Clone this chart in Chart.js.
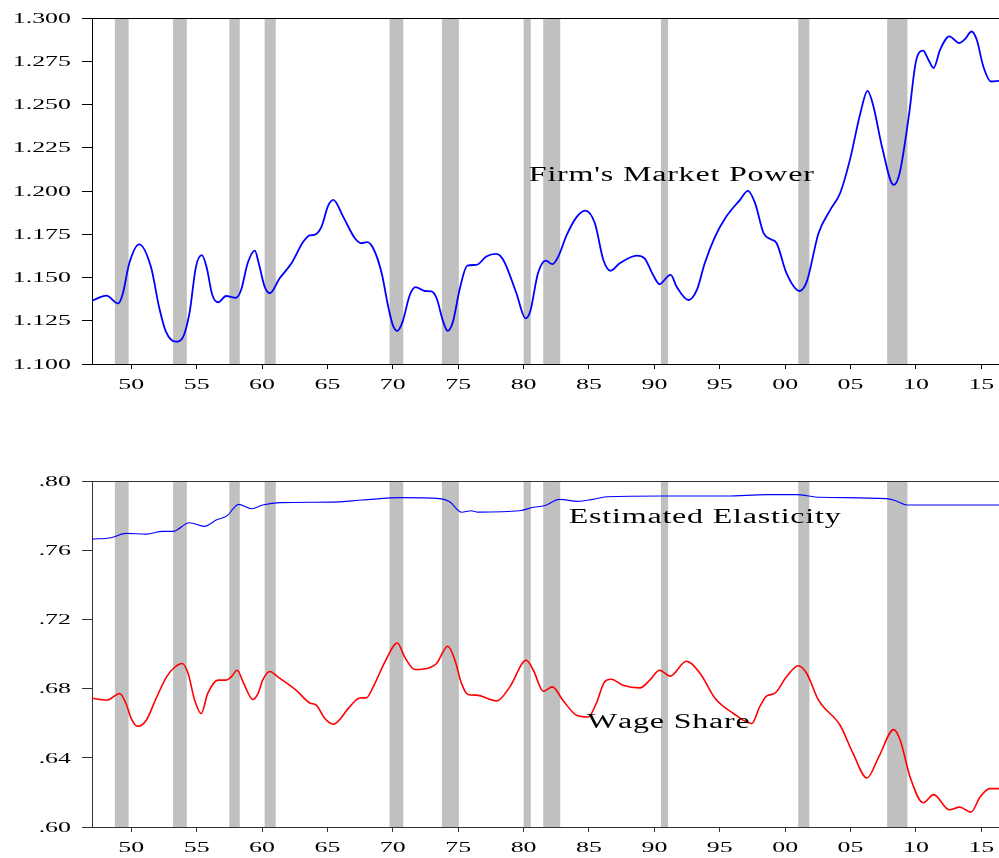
<!DOCTYPE html>
<html>
<head>
<meta charset="utf-8">
<script src="https://cdn.jsdelivr.net/npm/chart.js"></script>
<style>
  body { margin: 0; background: #fff; }
  #wrap { position: relative; width: 999px; height: 858px; }
  #top, #bottom { position: absolute; left: 0; }
  #top { top: 0; }
  #bottom { top: 430px; }
</style>
</head>
<body>
<div id="wrap">
  <canvas id="top" width="999" height="430"></canvas>
  <canvas id="bottom" width="999" height="428"></canvas>
</div>
<script>
// ---- data ----
const xTickYears = [1950, 1955, 1960, 1965, 1970, 1975, 1980, 1985, 1990, 1995, 2000, 2005, 2010, 2015];
const topTicks = [1.100, 1.125, 1.150, 1.175, 1.200, 1.225, 1.250, 1.275, 1.300];
const bottomTicks = [0.60, 0.64, 0.68, 0.72, 0.76, 0.80];

// NBER recessions (shaded)
const recessionStarts = [1948.75, 1953.2, 1957.5, 1960.2, 1969.75, 1973.75, 1980.0, 1981.5, 1990.5, 2001.0, 2007.8];
const recessionEnds   = [1949.8, 1954.25, 1958.3, 1961.05, 1970.8, 1975.05, 1980.55, 1982.8, 1991.05, 2001.85, 2009.35];

// Firm's market power
const powerYears = [1947.0, 1948.1, 1949.0, 1949.35, 1949.85, 1950.6, 1951.5, 1952.15, 1952.65, 1953.4,
  1953.9, 1954.45, 1954.95, 1955.4, 1955.75, 1956.2, 1956.65, 1957.25, 1958.0, 1958.4,
  1958.9, 1959.45, 1959.75, 1960.2, 1960.6, 1961.35, 1962.25, 1963.15, 1963.65, 1964.0,
  1964.55, 1965.05, 1965.45, 1966.2, 1967.1, 1967.6, 1968.05, 1968.5, 1969.15, 1969.65,
  1970.0, 1970.35, 1970.75, 1971.3, 1971.75, 1972.45, 1972.95, 1973.35, 1973.85, 1974.2,
  1974.6, 1975.1, 1975.7, 1976.4, 1977.15, 1977.9, 1978.45, 1979.45, 1980.15, 1980.5,
  1981.1, 1981.7, 1982.2, 1982.65, 1983.3, 1984.05, 1984.7, 1985.45, 1986.1, 1986.65,
  1987.35, 1988.65, 1989.25, 1989.9, 1990.4, 1991.05, 1991.25, 1991.7, 1992.6, 1993.25,
  1993.85, 1994.65, 1995.5, 1996.55, 1997.15, 1997.7, 1998.35, 1998.9, 1999.35, 2000.1,
  2001.1, 2001.65, 2002.55, 2003.45, 2004.2, 2004.95, 2005.75, 2006.3, 2006.75, 2007.4,
  2008.3, 2008.75, 2009.45, 2010.0, 2010.55, 2010.95, 2011.35, 2011.85, 2012.55, 2013.3,
  2013.75, 2014.25, 2014.65, 2015.15, 2015.75, 2016.35];
const powerValues = [1.1366, 1.1395, 1.1350, 1.1405, 1.1582, 1.1692, 1.1563, 1.1322, 1.1187, 1.1129,
  1.1148, 1.1293, 1.1563, 1.1629, 1.1563, 1.1399, 1.1357, 1.1393, 1.1383, 1.1428,
  1.1582, 1.1655, 1.1582, 1.1447, 1.1409, 1.1496, 1.1582, 1.1707, 1.1744, 1.1746,
  1.1794, 1.1914, 1.1949, 1.1852, 1.1727, 1.1698, 1.1704, 1.1669, 1.1525, 1.1331,
  1.1225, 1.1191, 1.1245, 1.1399, 1.1444, 1.1422, 1.1420, 1.1380, 1.1245, 1.1191,
  1.1245, 1.1428, 1.1569, 1.1573, 1.1621, 1.1636, 1.1601, 1.1409, 1.1264, 1.1302,
  1.1525, 1.1598, 1.1577, 1.1621, 1.1746, 1.1849, 1.1887, 1.1814, 1.1601, 1.1539,
  1.1582, 1.1627, 1.1611, 1.1515, 1.1461, 1.1509, 1.1515, 1.1447, 1.1370, 1.1428,
  1.1582, 1.1737, 1.1852, 1.1949, 1.2001, 1.1930, 1.1756, 1.1721, 1.1698, 1.1525,
  1.1422, 1.1476, 1.1756, 1.1891, 1.1987, 1.2180, 1.2450, 1.2579, 1.2489, 1.2257,
  1.2035, 1.2103, 1.2431, 1.2749, 1.2811, 1.2759, 1.2711, 1.2817, 1.2894, 1.2855,
  1.2878, 1.2922, 1.2874, 1.2720, 1.2633, 1.2637];

// Estimated elasticity
const elasYears = [1947.0, 1948.45, 1949.6, 1951.15, 1952.4, 1953.2, 1954.45, 1955.6, 1956.5, 1957.4,
  1957.75, 1958.2, 1959.2, 1960.05, 1961.35, 1965.4, 1967.7, 1970.65, 1973.6, 1974.35,
  1975.25, 1976.0, 1976.5, 1979.7, 1980.75, 1981.6, 1982.75, 1984.15, 1985.3, 1986.35,
  1990.65, 1995.5, 1998.6, 2000.85, 2002.65, 2007.75, 2008.5, 2009.3, 2010.8, 2016.35];
const elasValues = [0.7664, 0.7672, 0.7697, 0.7693, 0.7709, 0.7709, 0.7759, 0.7738, 0.7774, 0.7803,
  0.7836, 0.7865, 0.7840, 0.7861, 0.7875, 0.7878, 0.7890, 0.7904, 0.7898, 0.7880,
  0.7819, 0.7828, 0.7820, 0.7828, 0.7848, 0.7857, 0.7894, 0.7882, 0.7894, 0.7909,
  0.7913, 0.7913, 0.7921, 0.7921, 0.7906, 0.7898, 0.7884, 0.7861, 0.7861, 0.7861];

// Wage share
const wageYears = [1947.0, 1948.1, 1948.45, 1949.1, 1949.6, 1950.0, 1950.5, 1951.15, 1951.9, 1952.7,
  1953.3, 1953.9, 1954.35, 1954.85, 1955.35, 1955.85, 1956.65, 1957.25, 1957.65, 1958.1,
  1958.55, 1959.3, 1959.7, 1960.05, 1960.6, 1961.2, 1962.6, 1963.65, 1964.15, 1964.8,
  1965.45, 1966.7, 1967.45, 1968.0, 1968.5, 1969.4, 1970.35, 1970.9, 1971.7, 1972.85,
  1973.35, 1974.2, 1974.75, 1975.25, 1975.75, 1976.4, 1977.95, 1978.95, 1980.2, 1980.75,
  1981.5, 1982.2, 1983.0, 1984.05, 1984.95, 1985.55, 1986.2, 1986.7, 1987.6, 1988.9,
  1989.65, 1990.4, 1991.2, 1992.45, 1993.5, 1994.65, 1996.05, 1997.45, 1998.05, 1998.6,
  1999.2, 2000.1, 2001.0, 2001.65, 2002.55, 2004.2, 2005.2, 2006.25, 2007.15, 2008.3,
  2008.8, 2009.55, 2010.55, 2011.35, 2012.55, 2013.35, 2014.2, 2014.9, 2015.65, 2016.35];
const wageValues = [0.6744, 0.6733, 0.6743, 0.6772, 0.6714, 0.6627, 0.6582, 0.6617, 0.6743, 0.6868,
  0.6922, 0.6945, 0.6887, 0.6733, 0.6656, 0.6772, 0.6849, 0.6849, 0.6868, 0.6906,
  0.6839, 0.6737, 0.6772, 0.6849, 0.6899, 0.6868, 0.6791, 0.6717, 0.6704, 0.6627,
  0.6594, 0.6694, 0.6746, 0.6748, 0.6810, 0.6954, 0.7064, 0.6983, 0.6910, 0.6922,
  0.6945, 0.7045, 0.6964, 0.6830, 0.6766, 0.6762, 0.6729, 0.6810, 0.6964, 0.6906,
  0.6785, 0.6810, 0.6733, 0.6646, 0.6636, 0.6714, 0.6839, 0.6854, 0.6819, 0.6804,
  0.6849, 0.6906, 0.6872, 0.6958, 0.6887, 0.6743, 0.6656, 0.6598, 0.6694, 0.6758,
  0.6772, 0.6868, 0.6932, 0.6887, 0.6733, 0.6588, 0.6424, 0.6283, 0.6404, 0.6563,
  0.6501, 0.6289, 0.6140, 0.6187, 0.6100, 0.6115, 0.6086, 0.6173, 0.6222, 0.6222];

// ---- helpers ----
const SERIF = '"Liberation Serif", "Times New Roman", serif';

function toPoints(xs, ys) {
  return xs.map((x, i) => ({ x: x, y: ys[i] }));
}

// eviews-like wide lettering: draw char by char, then stretch horizontally
function wideText(ctx, text, x, y, size, sx, spacing, align) {
  ctx.save();
  ctx.font = size + 'px ' + SERIF;
  ctx.fillStyle = '#000';
  ctx.textBaseline = 'alphabetic';
  ctx.textAlign = 'left';
  const chars = [...text];
  const widths = chars.map(ch => ctx.measureText(ch).width);
  const w = (widths.reduce((a, b) => a + b, 0) + spacing * (chars.length - 1)) * sx;
  let left = x;
  if (align === 'right') left = x - w;
  else if (align === 'center') left = x - w / 2;
  ctx.translate(left, y);
  ctx.scale(sx, 1);
  let cx = 0;
  chars.forEach((ch, i) => {
    ctx.fillText(ch, cx, 0);
    cx += widths[i] + spacing;
  });
  ctx.restore();
}

function makeDecor(cfg) {
  return {
    id: 'decor_' + cfg.id,
    beforeDatasetsDraw(chart) {
      const { ctx, chartArea: a, scales: { x } } = chart;
      ctx.save();
      ctx.fillStyle = '#c0c0c0';
      recessionStarts.forEach((s, i) => {
        const x0 = x.getPixelForValue(s);
        const x1 = x.getPixelForValue(recessionEnds[i]);
        ctx.fillRect(x0, a.top, x1 - x0, a.bottom - a.top);
      });
      ctx.restore();
    },
    afterDraw(chart) {
      const { ctx, chartArea: a, scales: { x, y } } = chart;
      // top frame line
      ctx.save();
      ctx.strokeStyle = cfg.frame;
      ctx.lineWidth = 1;
      ctx.beginPath();
      ctx.moveTo(a.left, Math.round(a.top) + 0.5);
      ctx.lineTo(a.right, Math.round(a.top) + 0.5);
      ctx.stroke();
      ctx.restore();

      x.ticks.forEach(t => {
        const lbl = String(t.value % 100).padStart(2, '0');
        wideText(ctx, lbl, x.getPixelForValue(t.value), a.bottom + 25, 14, 1.85, 0, 'center');
      });
      y.ticks.forEach(t => {
        wideText(ctx, cfg.fmt(t.value), a.left - 21, y.getPixelForValue(t.value) + 4.7, 14, 1.85, 0, 'right');
      });
      cfg.notes.forEach(n => {
        wideText(ctx, n.text, x.getPixelForValue(n.x), y.getPixelForValue(n.y), 20, 1.6, 0.5, 'left');
      });
    }
  };
}

function makeChart(cfg) {
  return new Chart(document.getElementById(cfg.id), {
    type: 'line',
    data: { datasets: cfg.datasets },
    options: {
      responsive: false,
      animation: false,
      devicePixelRatio: 1,
      layout: { padding: { top: cfg.padTop, right: 0, left: 0, bottom: 0 } },
      plugins: { legend: { display: false }, tooltip: { enabled: false } },
      elements: { point: { radius: 0 }, line: { cubicInterpolationMode: 'monotone' } },
      scales: {
        x: {
          type: 'linear', min: 1947, max: 2016.35,
          afterBuildTicks: s => { s.ticks = xTickYears.map(v => ({ value: v })); },
          afterFit: s => { s.height = cfg.xHeight; },
          ticks: { display: false },
          grid: { drawOnChartArea: false, drawTicks: true, tickLength: 5, color: cfg.frame },
          border: { color: cfg.frame, width: 1 }
        },
        y: {
          min: cfg.yTicks[0], max: cfg.yTicks[cfg.yTicks.length - 1],
          afterBuildTicks: s => { s.ticks = cfg.yTicks.map(v => ({ value: v })); },
          afterFit: s => { s.width = 92; },
          ticks: { display: false },
          grid: { drawOnChartArea: false, drawTicks: true, tickLength: 10, color: cfg.frame },
          border: { color: cfg.frame, width: 1 }
        }
      }
    },
    plugins: [makeDecor(cfg)]
  });
}

makeChart({
  id: 'top',
  padTop: 18,
  xHeight: 66,
  frame: '#000',
  yTicks: topTicks,
  fmt: v => v.toFixed(3),
  notes: [{ text: "Firm's Market Power", x: 1980.4, y: 1.2059 }],
  datasets: [{
    label: "Firm's Market Power",
    data: toPoints(powerYears, powerValues),
    borderColor: '#0000ff',
    borderWidth: 1.8
  }]
});

makeChart({
  id: 'bottom',
  padTop: 51,
  xHeight: 31,
  frame: '#333',
  yTicks: bottomTicks,
  fmt: v => v.toFixed(2).replace(/^0/, ''),
  notes: [
    { text: 'Estimated Elasticity', x: 1983.45, y: 0.7757 },
    { text: 'Wage Share', x: 1984.85, y: 0.6571 }
  ],
  datasets: [{
    label: 'Estimated Elasticity',
    data: toPoints(elasYears, elasValues),
    borderColor: '#0000ff',
    borderWidth: 1.1
  }, {
    label: 'Wage Share',
    data: toPoints(wageYears, wageValues),
    borderColor: '#ff0000',
    borderWidth: 1.6
  }]
});
</script>
</body>
</html>
